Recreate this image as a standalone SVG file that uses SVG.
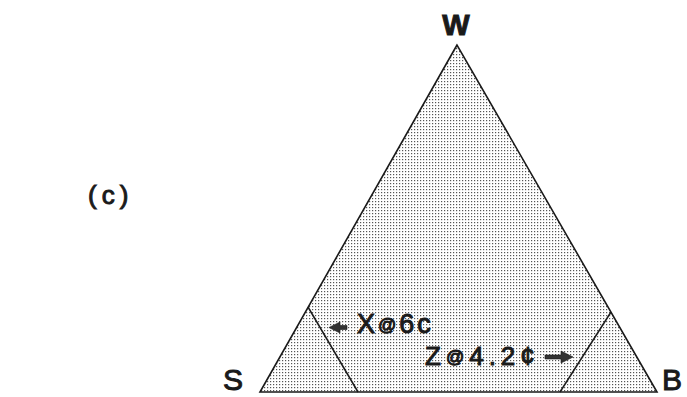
<svg xmlns="http://www.w3.org/2000/svg" width="687" height="397" viewBox="0 0 687 397">
<defs>
<pattern id="dots" width="3" height="3" patternUnits="userSpaceOnUse">
<rect width="3" height="3" fill="#ffffff"/>
<rect x="0" y="0" width="1.2" height="1.2" fill="#555555"/>
</pattern>
<style>
.lbl{font-family:"Liberation Sans",Arial,sans-serif;fill:#1a1a1a;stroke:#1a1a1a;stroke-width:1}
.edge{fill:none;stroke:#1a1a1a;stroke-width:1.5}
.arr{fill:#333333;stroke:#1a1a1a;stroke-width:0.6}
</style>
</defs>
<rect width="687" height="397" fill="#ffffff"/>
<g id="triangle">
<polygon points="457,45 260,392 657,392" fill="url(#dots)" stroke="#1a1a1a" stroke-width="1.6"/>
</g>
<g id="connectors">
<line class="edge" x1="308" y1="307" x2="358" y2="392"/>
<line class="edge" x1="611" y1="312" x2="560" y2="392"/>
</g>
<g id="W"><text class="lbl" x="456" y="35" font-size="29" text-anchor="middle" font-weight="bold" stroke-width="0.3">W</text></g>
<g id="S"><text class="lbl" x="233" y="390" font-size="30" text-anchor="middle">S</text></g>
<g id="B"><text class="lbl" x="672" y="390" font-size="30" text-anchor="middle">B</text></g>
<g id="c"><text class="lbl" x="88" y="204" font-size="26" letter-spacing="5">(c)</text></g>
<g id="X">
<path class="arr" d="M329,327.5 L340,322 L340,325.5 L347,325.5 L347,329.5 L340,329.5 L340,333 Z"/>
<text class="lbl" x="357" y="333" font-size="27" letter-spacing="3">X<tspan font-size="18" dy="-2">@</tspan><tspan dy="2">6c</tspan></text>
</g>
<g id="Z">
<text class="lbl" x="425" y="365" font-size="26" letter-spacing="5">Z<tspan font-size="18" dy="-2">@</tspan><tspan dy="2">4.2¢</tspan></text>
<path class="arr" d="M573,357 L561,351 L561,355 L545,355 L545,359 L561,359 L561,363 Z"/>
</g>
</svg>
